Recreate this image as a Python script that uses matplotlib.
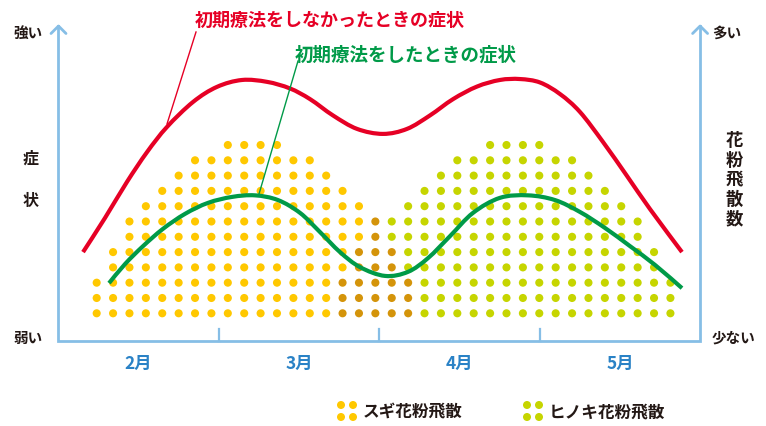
import numpy as np
import matplotlib
matplotlib.use('Agg')
import matplotlib.pyplot as plt
from matplotlib.path import Path
from matplotlib.patches import PathPatch, Ellipse

# ---------------- data ----------------
months = ['2月', '3月', '4月', '5月']
# dots per column (pollen amount), counted from the picture
sugi_counts = [3, 5, 7, 8, 9, 10, 11, 11, 12, 12, 12, 12, 11, 11, 10, 9, 8, 7, 5, 3] + [0] * 16
hinoki_counts = [0] * 15 + [3, 5, 7, 7, 8, 9, 10, 11, 11, 12, 12, 12, 12, 11, 11, 10, 9, 8, 7, 5, 3]

# symptom curves (x in months from Feb 1, y on a 0-100 scale)
red_x = [0.153, 0.290, 0.427, 0.552, 0.676, 0.839, 0.988, 1.144, 1.300, 1.443, 1.568, 1.711,
         1.861, 2.023, 2.173, 2.316, 2.460, 2.609, 2.752, 2.877, 3.002, 3.127, 3.251, 3.395,
         3.544, 3.688, 3.887]
red_y = [28.2, 39.1, 50.6, 60.1, 68.1, 76.1, 80.9, 83.1, 82.5, 80.4, 77.0, 71.8,
         67.5, 65.9, 67.5, 71.8, 77.0, 81.0, 83.1, 83.4, 82.3, 78.6, 72.9, 63.3,
         52.5, 41.9, 28.2]
green_x = [0.315, 0.415, 0.527, 0.651, 0.789, 0.932, 1.082, 1.225, 1.368, 1.506, 1.630, 1.755,
           1.880, 2.036, 2.179, 2.304, 2.441, 2.584, 2.752, 2.927, 3.095, 3.251, 3.407, 3.563,
           3.719, 3.887]
green_y = [18.3, 24.4, 30.1, 35.6, 40.4, 43.9, 45.8, 46.3, 44.8, 40.7, 34.6, 28.2,
           23.4, 20.6, 21.9, 26.3, 33.3, 40.7, 45.5, 46.3, 44.8, 41.0, 35.9, 30.1,
           24.1, 16.7]

# ---------------- style ----------------
FONT = ['Noto Sans CJK JP', 'DejaVu Sans']
C_SUGI = '#FFC800'
C_BOTH = '#D4940A'
C_HINOKI = '#C6D500'
C_RED = '#E60025'
C_GREEN = '#009A48'
C_AXIS = '#86BEE6'
C_MONTH = '#2A82C6'
C_TEXT = '#231815'

W, H = 766, 427
fig = plt.figure(figsize=(W / 100, H / 100), dpi=100)
ax = fig.add_axes([0, 0, 1, 1])
PX_X = 160.4   # pixels per month
PX_Y = 3.135   # pixels per unit
X0, Y0 = 58.5, 341.5
ax.set_xlim(-X0 / PX_X, (W - X0) / PX_X)
ax.set_ylim(-(H - Y0) / PX_Y, Y0 / PX_Y)
ax.axis('off')


def fp(px, py):
    """pixel (from top-left) -> figure fraction"""
    return px / W, 1 - py / H


# ---------------- dots ----------------
col_x0, col_dx = 0.238, 0.1022
row_y0, row_dy = 8.68, 4.88
xs, ys, cs = [], [], []
for i, (s, h) in enumerate(zip(sugi_counts, hinoki_counts)):
    for r in range(max(s, h)):
        xs.append(col_x0 + i * col_dx)
        ys.append(row_y0 + r * row_dy)
        if r < s and r < h:
            cs.append(C_BOTH)
        elif r < s:
            cs.append(C_SUGI)
        else:
            cs.append(C_HINOKI)
ax.scatter(xs, ys, s=34, c=cs, linewidths=0, zorder=2)


# ---------------- curves ----------------
def smooth_path(x, y):
    p = np.column_stack([x, y])
    verts = [p[0]]
    codes = [Path.MOVETO]
    n = len(p)
    for i in range(n - 1):
        p0 = p[i - 1] if i > 0 else p[i]
        p1, p2 = p[i], p[i + 1]
        p3 = p[i + 2] if i + 2 < n else p[i + 1]
        c1 = p1 + (p2 - p0) / 6
        c2 = p2 - (p3 - p1) / 6
        verts += [c1, c2, p2]
        codes += [Path.CURVE4] * 3
    return Path(verts, codes)


for cx, cy, col in [(red_x, red_y, C_RED), (green_x, green_y, C_GREEN)]:
    ax.add_patch(PathPatch(smooth_path(cx, cy), fill=False, edgecolor=col,
                           lw=3.0, capstyle='butt', zorder=4))

# ---------------- axes frame ----------------
top = (Y0 - 27) / PX_Y
ax.plot([0, 0, 4, 4], [top, 0, 0, top], color=C_AXIS, lw=2.0,
        solid_joinstyle='miter', zorder=1)
for mx in [1, 2, 3]:
    ax.plot([mx, mx], [0, 11.5 / PX_Y], color=C_AXIS, lw=1.6, zorder=1)
ah_w, ah_h = 7.5 / PX_X, 7.5 / PX_Y
for xx in [0, 4]:
    ax.plot([xx - ah_w, xx, xx + ah_w], [top - ah_h, top, top - ah_h], color=C_AXIS,
            lw=2.0, solid_capstyle='round', solid_joinstyle='round', zorder=1)

for k, m in enumerate(months):
    ax.text(k + 0.5, -(364 - Y0) / PX_Y, m, ha='center', va='center', fontsize=12.5,
            fontweight='bold', color=C_MONTH, family=FONT)

# ---------------- side labels ----------------
tkw = dict(fontweight='bold', color=C_TEXT, family=FONT)
fig.text(*fp(28, 33), '強い', ha='center', va='center', fontsize=10.5, **tkw)
fig.text(*fp(28, 338), '弱い', ha='center', va='center', fontsize=10.5, **tkw)
fig.text(*fp(712, 33), '多い', ha='left', va='center', fontsize=10.5, **tkw)
fig.text(*fp(712, 338), '少ない', ha='left', va='center', fontsize=10.5, **tkw)
fig.text(*fp(31, 159), '症', ha='center', va='center', fontsize=11.5, **tkw)
fig.text(*fp(31, 201), '状', ha='center', va='center', fontsize=11.5, **tkw)
for j, ch in enumerate('花粉飛散数'):
    fig.text(*fp(734, 141 + j * 19.6), ch, ha='center', va='center', fontsize=12.5, **tkw)

# ---------------- curve titles + callouts ----------------
fig.text(*fp(330, 20), '初期療法をしなかったときの症状', ha='center', va='center',
         fontsize=13, fontweight='bold', color=C_RED, family=FONT)
fig.text(*fp(406, 55), '初期療法をしたときの症状', ha='center', va='center',
         fontsize=13.3, fontweight='bold', color=C_GREEN, family=FONT)
for (a, b), col in [(((196, 33), (167, 125)), C_RED), (((298, 62), (259, 195)), C_GREEN)]:
    fa, fb = fp(*a), fp(*b)
    fig.add_artist(plt.Line2D([fa[0], fb[0]], [fa[1], fb[1]], color=col, lw=1.0,
                              transform=fig.transFigure, zorder=5))

# ---------------- legend ----------------
for (lx, label, col) in [(341, 'スギ花粉飛散', C_SUGI), (527, 'ヒノキ花粉飛散', C_HINOKI)]:
    for dx_ in (0, 12):
        for dy_ in (0, 12):
            fx, fy = fp(lx + dx_, 406 + dy_)
            fig.add_artist(Ellipse((fx, fy), 8 / W, 8 / H, color=col,
                                   transform=fig.transFigure, lw=0))
    fig.text(*fp(lx + 22, 412), label, ha='left', va='center', fontsize=12, **tkw)

fig.savefig('out.png', dpi=100)
